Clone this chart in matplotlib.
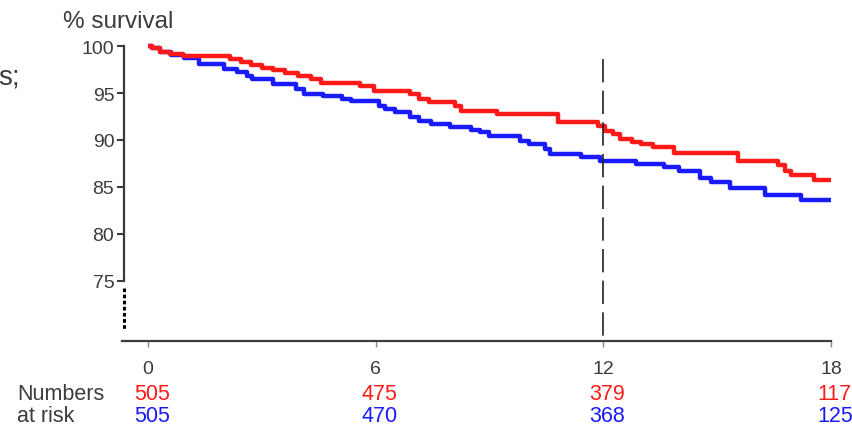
import matplotlib
matplotlib.use('Agg')
import matplotlib.pyplot as plt
import matplotlib.transforms as mtransforms

plt.rcParams['font.family'] = ['Liberation Sans', 'DejaVu Sans']

# =========================
# 1. data
# =========================
red_months = [0, 0.1, 0.32, 0.58, 0.92, 2.16, 2.45, 2.72, 3.0, 3.3, 3.6, 3.95, 4.3, 4.55,
              5.6, 5.95, 6.9, 7.15, 7.4, 8.1, 8.25, 9.2, 10.8, 11.85, 12.05, 12.25, 12.45,
              12.75, 13.0, 13.3, 13.85, 15.55, 16.6, 16.8, 16.95, 17.55, 18]
red_surv = [100, 99.75, 99.4, 99.15, 98.9, 98.6, 98.3, 98.0, 97.7, 97.4, 97.1, 96.8, 96.5, 96.1,
            95.7, 95.25, 94.9, 94.4, 94.0, 93.6, 93.1, 92.8, 91.9, 91.5, 91.0, 90.6, 90.1,
            89.8, 89.6, 89.2, 88.6, 87.8, 87.3, 86.7, 86.3, 85.7, 85.7]

blue_months = [0, 0.1, 0.32, 0.6, 0.95, 1.35, 2.0, 2.35, 2.6, 2.75, 3.3, 3.9, 4.1, 4.6, 5.1, 5.35,
               6.1, 6.25, 6.5, 6.9, 7.15, 7.45, 7.95, 8.5, 8.75, 9.0, 9.8, 10.05, 10.45, 10.6,
               11.4, 11.9, 12.85, 13.6, 14.0, 14.55, 14.85, 15.35, 16.25, 17.2, 18]
blue_surv = [100, 99.75, 99.4, 99.0, 98.7, 98.1, 97.55, 97.2, 96.8, 96.5, 96.0, 95.4, 94.9, 94.65, 94.4, 94.1,
             93.6, 93.3, 93.0, 92.4, 92.05, 91.7, 91.35, 91.1, 90.8, 90.4, 89.9, 89.6, 89.0, 88.5,
             88.15, 87.8, 87.4, 87.1, 86.7, 86.0, 85.5, 84.9, 84.15, 83.6, 83.6]

x_ticks = [0, 6, 12, 18]
y_ticks = [75, 80, 85, 90, 95, 100]
risk_red = [505, 475, 379, 117]
risk_blue = [505, 470, 368, 125]

RED = '#ff1a1a'
BLUE = '#1a1aff'
GREY = '#3c3c3c'

# =========================
# 2. figure / axes
# =========================
W, H = 852, 427
fig = plt.figure(figsize=(W / 100, H / 100), dpi=100)
ax = fig.add_axes([122 / W, (H - 342) / H, (831 - 122) / W, (342 - 41.4) / H])
ax.set_xlim(-0.685, 18)
ax.set_ylim(68.6, 100.6)

ax.step(red_months, red_surv, where='post', color=RED, lw=3.2, solid_capstyle='butt', zorder=3)
ax.step(blue_months, blue_surv, where='post', color=BLUE, lw=3.2, solid_capstyle='butt', zorder=2)

# dashed line at 12 months
ax.plot([12, 12], [98.6, 68.6], color='#222222', lw=1.2, dashes=(14, 5), zorder=4)

# =========================
# 3. axes styling
# =========================
for s in ['top', 'right']:
    ax.spines[s].set_visible(False)
ax.spines['left'].set_bounds(75, 100)
ax.spines['left'].set_position(('data', -0.63))
for s in ['left', 'bottom']:
    ax.spines[s].set_color(GREY)
    ax.spines[s].set_linewidth(1.6)

# axis break below 75
ax.plot([-0.63, -0.63], [74.2, 69.9], color='black', lw=2.2, dashes=(1.2, 0.8),
        clip_on=False)

ax.set_yticks(y_ticks)
ax.set_xticks(x_ticks)
ax.tick_params(axis='y', direction='out', length=5, width=1.5, color=GREY,
               labelsize=14, labelcolor=GREY, pad=2)
ax.tick_params(axis='x', direction='out', length=4, width=1.0, color='#888888',
               labelsize=14, labelcolor=GREY, pad=10)

# =========================
# 4. texts
# =========================
fig.text(63 / W, 1 - 22 / H, '% survival', fontsize=17.5, color=GREY, ha='left', va='center')
fig.text(20 / W, 1 - 78 / H, 's;', fontsize=20, color=GREY, ha='right', va='center')

fig.text(17 / W, 1 - 395 / H, 'Numbers', fontsize=15.5, color=GREY, ha='left', va='center')
fig.text(17 / W, 1 - 417 / H, 'at risk', fontsize=15.5, color=GREY, ha='left', va='center')

trans = mtransforms.blended_transform_factory(ax.transData, fig.transFigure)
for m, r, b in zip(x_ticks, risk_red, risk_blue):
    ax.text(m + 0.1, 1 - 395 / H, str(r), transform=trans, fontsize=15.5, color=RED,
            ha='center', va='center')
    ax.text(m + 0.1, 1 - 417 / H, str(b), transform=trans, fontsize=15.5, color=BLUE,
            ha='center', va='center')

fig.savefig('out.png', dpi=100)
